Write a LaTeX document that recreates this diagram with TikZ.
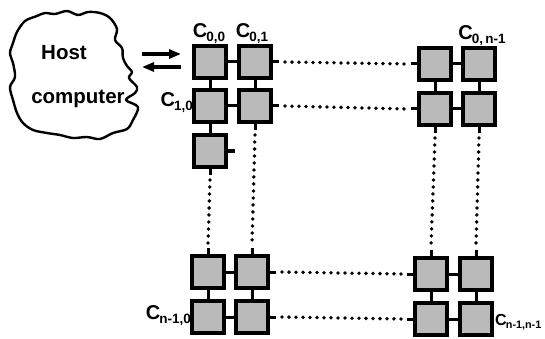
\documentclass[tikz,border=0pt]{standalone}
\usepackage{fontspec}
\setmainfont{Liberation Sans}
\usetikzlibrary{arrows.meta}
\newcommand{\clab}[1]{\fontsize{20}{20}\selectfont\bfseries C\kern-1pt\raisebox{-0.2em}{\fontsize{13.5}{13.5}\selectfont #1}}
\begin{document}
\begin{tikzpicture}[x=1pt,y=-1pt,
  pe/.style={draw=black,line width=3.4pt,fill=black!27,minimum size=32pt,inner sep=0pt,outer sep=0pt},
  link/.style={line width=3pt},
  dotline/.style={line width=3.8pt,line cap=round,dash pattern=on 0pt off 7pt},
  lab/.style={inner sep=0pt}]
\useasboundingbox (0,0) rectangle (545,339);
\clip (0,0) rectangle (545,339);
% cloud
\draw[line width=2.4pt,line join=round] plot[smooth cycle,tension=0.55] coordinates {
 (17,32) (25,21) (37,16) (45,13) (55,14) (67,11) (78,15) (88,12) (100,13) (110,18) (117,29) (115,40) (122,48) (123,58) (127,66) (132,72) (129,78) (137,87) (135,93) (126,100) (138,107) (133,120) (127,129) (113,133) (100,139) (87,137) (73,138) (60,135) (47,133) (33,130) (23,123) (17,113) (13,100) (10,87) (15,77) (13,63) (10,53) (13,43)};
\node[lab] (host) at (64,53) {\fontsize{20.5}{20}\selectfont\bfseries Host};
\node[lab] (comp) at (78,99) {\fontsize{20.5}{20}\selectfont\bfseries computer};
% arrows
\coordinate (a1) at (142,54);
\coordinate (a2) at (181,54);
\coordinate (b1) at (181,67);
\coordinate (b2) at (142,67);
\draw[line width=3.2pt,-{Triangle[length=12pt,width=9pt]}] (a1) -- (a2);
\draw[line width=3.2pt,-{Triangle[length=12pt,width=9pt]}] (b1) -- (b2);
% processors
\node[pe] (c00) at (210,62) {};
\node[pe] (c01) at (255,62) {};
\node[pe] (c10) at (210,106) {};
\node[pe] (c11) at (255,106) {};
\node[pe] (c20) at (210,151) {};
\node[pe] (r00) at (435,64) {};
\node[pe] (r01) at (479,64) {};
\node[pe] (r10) at (435,109) {};
\node[pe] (r11) at (479,109) {};
\node[pe] (b00) at (208,272) {};
\node[pe] (b01) at (252,272) {};
\node[pe] (b10) at (208,317) {};
\node[pe] (b11) at (252,317) {};
\node[pe] (q00) at (431,274) {};
\node[pe] (q01) at (476,274) {};
\node[pe] (q10) at (431,319) {};
\node[pe] (q11) at (476,319) {};
% solid links
\draw[link] (c00) -- (c01);
\draw[link] (c10) -- (c11);
\draw[link] (c00) -- (c10);
\draw[link] (c01) -- (c11);
\draw[link] (c10) -- (c20);
\draw[link] (r00) -- (r01);
\draw[link] (r10) -- (r11);
\draw[link] (r00) -- (r10);
\draw[link] (r01) -- (r11);
\draw[link] (b00) -- (b01);
\draw[link] (b10) -- (b11);
\draw[link] (b00) -- (b10);
\draw[link] (b01) -- (b11);
\draw[link] (q00) -- (q01);
\draw[link] (q10) -- (q11);
\draw[link] (q00) -- (q10);
\draw[link] (q01) -- (q11);
\coordinate (s20) at ([xshift=9pt]c20.east);
\draw[link] (c20.east) -- (s20);
% dotted interconnections with solid stubs
\foreach \u/\v in {c01/r00, c11/r10, b01/q00, b11/q10}{
  \draw[link] (\u.east) -- ++(8,0);
  \draw[link] (\v.west) -- ++(-8,0);
  \draw[dotline] ([xshift=14pt]\u.east) -- ([xshift=-12pt]\v.west);
}
\foreach \u/\v in {c20/b00, c11/b01, r10/q00, r11/q01}{
  \draw[link] (\u.south) -- ++(0,8);
  \draw[link] (\v.north) -- ++(0,-8);
  \draw[dotline] ([yshift=-13pt]\u.south) -- ([yshift=12pt]\v.north);
}
% labels
\node[lab,anchor=south] (l00) at (209,44) {\clab{0,0}};
\node[lab,anchor=south] (l01) at (252,44) {\clab{0,1}};
\node[lab,anchor=south] (l0n) at (482,46) {\clab{0,\,n-1}};
\node[lab,anchor=east] (l10) at (193,103) {\clab{1,0}};
\node[lab,anchor=east] (ln0) at (191,316) {\clab{n-1,0}};
\node[lab,anchor=west,scale=0.8] (lnn) at (495,322) {\clab{n-1,n-1}};
\end{tikzpicture}
\end{document}
